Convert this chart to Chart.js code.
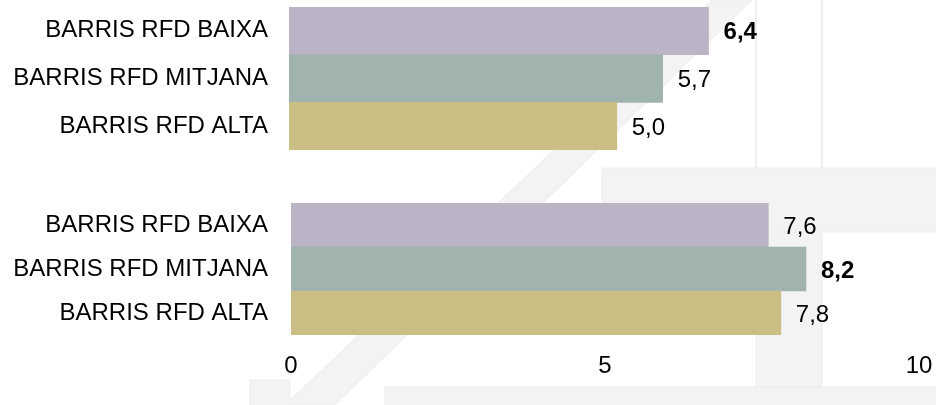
<!DOCTYPE html>
<html>
<head>
<meta charset="utf-8">
<script src="https://cdn.jsdelivr.net/npm/chart.js@4.4.1/dist/chart.umd.min.js"></script>
<style>
  html, body { margin: 0; padding: 0; background: #ffffff; }
  body { width: 936px; height: 405px; position: relative; overflow: hidden; }
  #watermark { position: absolute; left: 0; top: 0; }
  .box { position: absolute; left: 0; width: 936px; }
  #topBox { top: 0; height: 150px; }
  #bottomBox { top: 200px; height: 205px; }
</style>
</head>
<body>
<!-- 배경 워터마크 (장식) -->
<svg id="watermark" width="936" height="405">
  <g fill="#f3f3f3" stroke="#ededed" stroke-width="1">
    <polygon points="712,0 752,0 335,405 285,405"/>
    <rect x="602" y="168" width="340" height="64"/>
    <rect x="756" y="232" width="66" height="155"/>
    <rect x="385" y="387" width="560" height="30"/>
    <rect x="250" y="380" width="40" height="30"/>
  </g>
  <g stroke="#efefef" stroke-width="2">
    <line x1="756" y1="0" x2="756" y2="168"/>
    <line x1="822" y1="0" x2="822" y2="168"/>
  </g>
</svg>
<div class="box" id="topBox"><canvas id="topChart"></canvas></div>
<div class="box" id="bottomBox"><canvas id="bottomChart"></canvas></div>
<script>
// 데이터
const categories = ['BARRIS RFD BAIXA', 'BARRIS RFD MITJANA', 'BARRIS RFD ALTA'];
const topValues = [6.4, 5.7, 5.0];
const bottomValues = [7.6, 8.2, 7.8];
const xTicks = [0, 5, 10];
const topAxisMax = 9.87; // 위쪽 그래프는 별도 축 (원본이 두 개의 차트)

const barColors = ['#bab4c6', '#a0b3af', '#cabe84'];
const FONT = "'Liberation Sans', Arial, sans-serif";

// 막대 끝 값 라벨
const valueLabels = {
    id: 'valueLabels',
    afterDatasetsDraw(chart) {
        const ctx = chart.ctx;
        const ds = chart.data.datasets[0];
        const maxVal = Math.max(...ds.data);
        chart.getDatasetMeta(0).data.forEach((bar, i) => {
            const v = ds.data[i];
            ctx.save();
            ctx.font = (v === maxVal ? 'bold ' : '') + '24px ' + FONT;
            ctx.fillStyle = '#000000';
            ctx.textAlign = 'left';
            ctx.textBaseline = 'middle';
            ctx.fillText(v.toFixed(1).replace('.', ','), bar.x + 15, bar.y + 2);
            ctx.restore();
        });
    }
};

// 축 여백 제거 (라벨 때문에 생기는 padding)
const noPad = (scale) => {
    scale.paddingTop = 0;
    scale.paddingBottom = 0;
    scale.paddingLeft = 0;
    scale.paddingRight = 0;
};

function makeChart(canvasId, values, opts) {
    return new Chart(document.getElementById(canvasId), {
        type: 'bar',
        data: {
            labels: categories,
            datasets: [{
                data: values,
                backgroundColor: barColors,
                borderWidth: 0,
                barPercentage: 1,
                categoryPercentage: 1
            }]
        },
        options: {
            indexAxis: 'y',
            responsive: true,
            maintainAspectRatio: false,
            animation: false,
            layout: { padding: opts.padding },
            plugins: {
                legend: { display: false },
                tooltip: { enabled: false }
            },
            scales: {
                x: opts.x,
                y: {
                    grid: { display: false, drawTicks: false },
                    border: { display: false },
                    ticks: {
                        color: '#000000',
                        padding: opts.yPad,
                        font: { family: FONT, size: 24 }
                    },
                    afterFit: (scale) => {
                        scale.width = opts.yWidth;
                        noPad(scale);
                    }
                }
            }
        },
        plugins: [valueLabels]
    });
}

makeChart('topChart', topValues, {
    padding: { top: 7, bottom: 0, left: 0, right: 0 },
    yWidth: 289,
    yPad: 21,
    x: { display: false, min: 0, max: topAxisMax }
});

makeChart('bottomChart', bottomValues, {
    padding: { top: 3, bottom: 0, left: 0, right: 17 },
    yWidth: 291,
    yPad: 23,
    x: {
        min: 0,
        max: 10,
        afterBuildTicks: (scale) => { scale.ticks = xTicks.map(v => ({ value: v })); },
        grid: { display: false, drawTicks: false },
        border: { display: false },
        ticks: {
            color: '#000000',
            padding: 17,
            maxRotation: 0,
            font: { family: FONT, size: 24 }
        },
        afterFit: (scale) => {
            scale.height = 70;
            noPad(scale);
        }
    }
});
</script>
</body>
</html>
